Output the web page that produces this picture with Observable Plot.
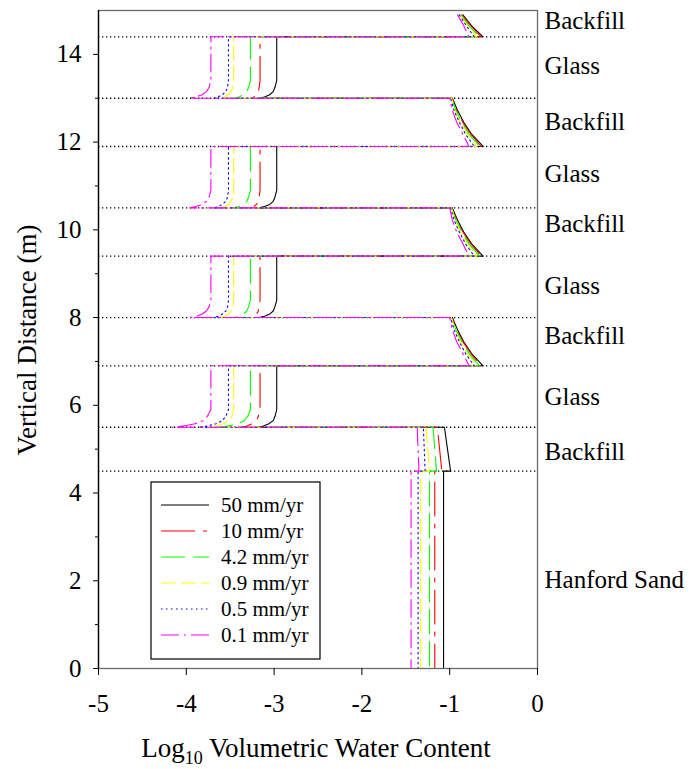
<!DOCTYPE html>
<html><head><meta charset="utf-8">
<script src="https://cdn.jsdelivr.net/npm/d3@7"></script>
<script src="https://cdn.jsdelivr.net/npm/@observablehq/plot@0.6"></script>
<style>
body{margin:0;background:#fff}
#chart{width:698px;height:769px}
#chart svg, #chart svg text { font-family: "Liberation Serif", "Times New Roman", Tinos, serif !important; }
</style>
</head><body><div id="chart"></div>
<script>
// ---- data ----
const seriesNames = ["50 mm/yr", "10 mm/yr", "4.2 mm/yr", "0.9 mm/yr", "0.5 mm/yr", "0.1 mm/yr"];
// vertical distance (m) of every profile point, top to bottom
const depth = [
  14.9, 14.65, 14.4,
  14.4, 13.4, 13.25, 13.15, 13.08, 13.03, 13.0,
  13.0, 12.72, 12.45, 12.18, 11.9,
  11.9, 10.9, 10.75, 10.65, 10.58, 10.53, 10.5,
  10.5, 10.22, 9.95, 9.68, 9.4,
  9.4, 8.4, 8.25, 8.15, 8.08, 8.03, 8.0,
  8.0, 7.72, 7.45, 7.18, 6.9,
  6.9, 5.9, 5.75, 5.65, 5.58, 5.53, 5.5,
  5.5, 4.5,
  4.5, 0
];
const w50 = [
  -0.85, -0.75, -0.62,
  -2.97, -2.97, -2.99, -3.01, -3.05, -3.11, -3.17,
  -0.97, -0.91, -0.84, -0.75, -0.62,
  -2.97, -2.97, -2.99, -3.01, -3.05, -3.11, -3.17,
  -0.97, -0.91, -0.84, -0.75, -0.62,
  -2.97, -2.97, -2.99, -3.01, -3.05, -3.11, -3.17,
  -0.97, -0.91, -0.84, -0.75, -0.62,
  -2.97, -2.97, -2.99, -3.01, -3.06, -3.12, -3.19,
  -1.06, -0.99,
  -1.07, -1.07
];
const w10 = [
  -0.86, -0.76, -0.64,
  -3.16, -3.16, -3.17, -3.18, -3.20, -3.23, -3.26,
  -0.97, -0.92, -0.85, -0.76, -0.64,
  -3.16, -3.16, -3.17, -3.18, -3.20, -3.23, -3.26,
  -0.97, -0.92, -0.85, -0.76, -0.64,
  -3.16, -3.16, -3.17, -3.18, -3.20, -3.23, -3.26,
  -0.97, -0.92, -0.85, -0.76, -0.64,
  -3.16, -3.16, -3.18, -3.20, -3.25, -3.31, -3.38,
  -1.14, -1.09,
  -1.17, -1.17
];
const w42 = [
  -0.87, -0.78, -0.66,
  -3.27, -3.27, -3.29, -3.31, -3.35, -3.40, -3.46,
  -0.98, -0.93, -0.86, -0.78, -0.66,
  -3.27, -3.27, -3.29, -3.31, -3.35, -3.40, -3.46,
  -0.98, -0.93, -0.86, -0.78, -0.66,
  -3.27, -3.27, -3.29, -3.31, -3.35, -3.40, -3.46,
  -0.98, -0.93, -0.86, -0.78, -0.66,
  -3.27, -3.27, -3.30, -3.34, -3.41, -3.52, -3.62,
  -1.19, -1.15,
  -1.23, -1.23
];
const w09 = [
  -0.88, -0.80, -0.69,
  -3.46, -3.46, -3.47, -3.49, -3.52, -3.57, -3.61,
  -0.98, -0.94, -0.88, -0.80, -0.69,
  -3.46, -3.46, -3.47, -3.49, -3.52, -3.57, -3.61,
  -0.98, -0.94, -0.88, -0.80, -0.69,
  -3.46, -3.46, -3.47, -3.49, -3.52, -3.57, -3.61,
  -0.98, -0.94, -0.88, -0.80, -0.69,
  -3.46, -3.46, -3.48, -3.52, -3.58, -3.67, -3.76,
  -1.27, -1.23,
  -1.33, -1.33
];
const w05 = [
  -0.89, -0.81, -0.72,
  -3.52, -3.52, -3.53, -3.55, -3.59, -3.64, -3.69,
  -0.99, -0.95, -0.89, -0.82, -0.72,
  -3.52, -3.52, -3.53, -3.55, -3.59, -3.64, -3.69,
  -0.99, -0.95, -0.89, -0.82, -0.72,
  -3.52, -3.52, -3.53, -3.55, -3.59, -3.64, -3.69,
  -0.99, -0.95, -0.89, -0.82, -0.72,
  -3.52, -3.52, -3.55, -3.59, -3.66, -3.76, -3.86,
  -1.30, -1.28,
  -1.36, -1.36
];
const w01 = [
  -0.91, -0.84, -0.78,
  -3.72, -3.72, -3.74, -3.77, -3.82, -3.89, -3.96,
  -1.00, -0.97, -0.92, -0.85, -0.78,
  -3.72, -3.72, -3.74, -3.77, -3.82, -3.89, -3.96,
  -1.00, -0.97, -0.92, -0.85, -0.78,
  -3.72, -3.72, -3.74, -3.77, -3.82, -3.89, -3.96,
  -1.00, -0.97, -0.92, -0.85, -0.78,
  -3.72, -3.72, -3.76, -3.81, -3.90, -4.03, -4.16,
  -1.37, -1.35,
  -1.44, -1.44
];
const seriesValues = [w50, w10, w42, w09, w05, w01];
const boundaries = [14.4, 13.0, 11.9, 10.5, 9.4, 8.0, 6.9, 5.5, 4.5];
const layerNames = ["Backfill", "Glass", "Backfill", "Glass", "Backfill", "Glass", "Backfill", "Glass", "Backfill", "Hanford Sand"];
const layerY = [14.76, 13.73, 12.46, 11.27, 10.13, 8.73, 7.57, 6.2, 4.93, 2.01];
const xTicks = [-5, -4, -3, -2, -1, 0];
const yMajor = [0, 2, 4, 6, 8, 10, 12, 14];
const yMinor = [1, 3, 5, 7, 9, 11, 13];

// ---- styles ----
const colors = ["#000000", "#ff0000", "#00ff00", "#ffff00", "#0000ff", "#ff00ff"];
const dashes = [null, "34,8,4,8", "24,8", "15,5", "1.5,3.5", "18,5,2,5"];

const lineMarks = seriesValues.map((vals, i) =>
  Plot.line(depth.map((y, j) => ({y, x: vals[j]})), {
    x: "x", y: "y", stroke: colors[i], strokeWidth: 1.1,
    strokeDasharray: dashes[i] || undefined
  })
);

const plot = Plot.plot({
  width: 698, height: 769,
  marginLeft: 98, marginRight: 161, marginTop: 10, marginBottom: 101,
  style: {fontSize: "25px", background: "white", color: "black"},
  x: {domain: [-5, 0]},
  y: {domain: [0, 15]},
  marks: [
    Plot.ruleY(boundaries, {x1: -5, x2: 0, stroke: "black", strokeWidth: 1.3, strokeDasharray: "1.3,2.7"}),
    ...lineMarks,
    Plot.frame({stroke: "#6a6a6a", strokeWidth: 1.3}),
    Plot.ruleX([-5], {stroke: "black", strokeWidth: 1.3}),
    Plot.axisX(xTicks, {tickSize: 7, tickPadding: 19, tickFormat: d => String(d), label: null, fontSize: 25}),
    Plot.axisY(yMajor, {tickSize: 5, tickPadding: 12, tickFormat: d => String(d), label: null, fontSize: 25}),
    Plot.axisY(yMinor, {tickSize: 3, tickFormat: () => "", label: null}),
    Plot.text(layerNames, {x: () => 0, y: layerY, text: d => d, dx: 7, textAnchor: "start", fontSize: 25})
  ]
});
document.getElementById("chart").appendChild(plot);

const svg = d3.select(plot);
// axis titles
svg.append("text")
  .attr("transform", "translate(27,340) rotate(-90)")
  .attr("text-anchor", "middle")
  .attr("dominant-baseline", "central")
  .style("font-size", "27px").attr("fill", "black")
  .text("Vertical Distance (m)");
const xl = svg.append("text")
  .attr("x", 316).attr("y", 757)
  .attr("text-anchor", "middle")
  .style("font-size", "27px").attr("fill", "black");
xl.append("tspan").text("Log");
xl.append("tspan").attr("dy", 7).style("font-size", "18px").text("10");
xl.append("tspan").attr("dy", -7).text(" Volumetric Water Content");

// legend
const lg = svg.append("g");
lg.append("rect").attr("x", 151).attr("y", 482).attr("width", 169).attr("height", 177)
  .attr("fill", "white").attr("stroke", "black").attr("stroke-width", 1.2);
const rowY = [505, 531, 557, 583, 609, 635];
seriesNames.forEach((name, i) => {
  lg.append("line").attr("x1", 161).attr("x2", 209).attr("y1", rowY[i]).attr("y2", rowY[i])
    .attr("stroke", colors[i]).attr("stroke-width", 1.2)
    .attr("stroke-dasharray", dashes[i] || null);
  lg.append("text").attr("x", 221).attr("y", rowY[i])
    .attr("text-anchor", "start").attr("dominant-baseline", "central")
    .style("font-size", "21px").attr("fill", "black").text(name);
});
</script>
</body></html>
